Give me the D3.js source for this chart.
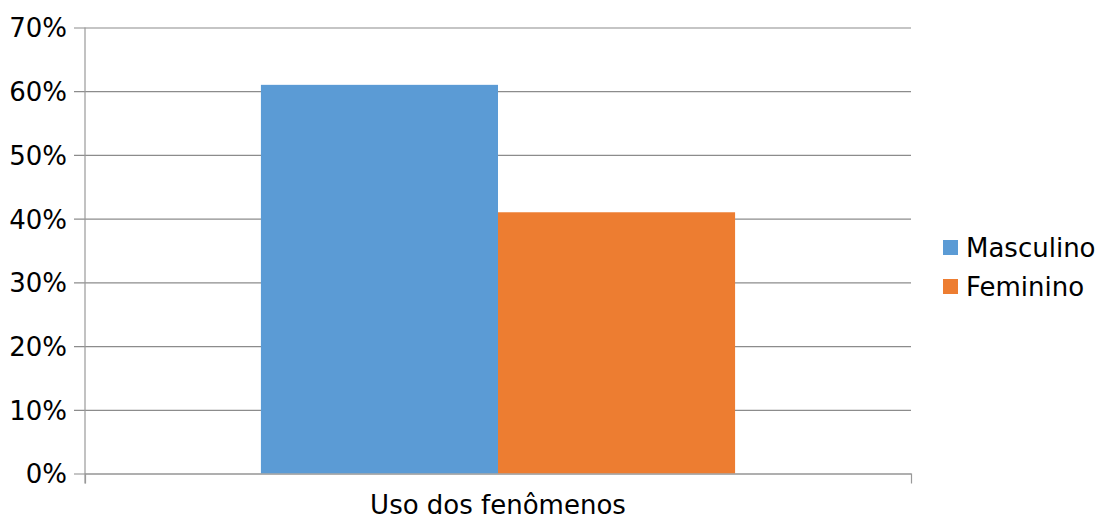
<!DOCTYPE html>
<html>
<head>
<meta charset="utf-8">
<script src="https://cdn.jsdelivr.net/npm/d3@7/dist/d3.min.js"></script>
<style>
  html, body { margin: 0; padding: 0; background: #fff; }
  svg { display: block; font-family: "DejaVu Sans", sans-serif; }
</style>
</head>
<body>
<svg id="chart" width="1099" height="517"></svg>
<script>
// Share of use by gender
const categories = ["Uso dos fenômenos"];
const seriesNames = ["Masculino", "Feminino"];
const seriesValues = [61, 41];
const seriesColors = ["#5b9bd5", "#ed7d31"];
const yTicks = [0, 10, 20, 30, 40, 50, 60, 70];

const svg = d3.select("#chart");
const plot = { left: 85, right: 911, top: 27.5, bottom: 473.5 };

const y = d3.scaleLinear().domain([0, 70]).range([plot.bottom, plot.top]);
const x0 = d3.scaleBand().domain(categories).range([plot.left, plot.right])
  .paddingInner(0).paddingOuter(0.371);
const x1 = d3.scaleBand().domain(seriesNames).range([0, x0.bandwidth()]).padding(0);

// horizontal gridlines with left ticks
const yAxis = d3.axisLeft(y).tickValues(yTicks).tickFormat(d => d + "%")
  .tickSize(-(plot.right - plot.left)).tickPadding(18);
const gy = svg.append("g").attr("transform", `translate(${plot.left},0)`).call(yAxis);
gy.select(".domain").remove();
gy.selectAll(".tick line").attr("x1", -11).attr("x2", plot.right - plot.left)
  .attr("stroke", "#8c8c8c").attr("stroke-width", 1.2);
gy.selectAll(".tick text").attr("font-size", 26).attr("fill", "#000")
  .attr("font-family", "DejaVu Sans, sans-serif").attr("dy", "0.36em");

// bars
const g = svg.append("g");
categories.forEach(c => {
  g.selectAll(null).data(seriesNames).enter().append("rect")
    .attr("x", d => x0(c) + x1(d))
    .attr("width", x1.bandwidth())
    .attr("y", (d, i) => y(seriesValues[i]))
    .attr("height", (d, i) => y(0) - y(seriesValues[i]))
    .attr("fill", (d, i) => seriesColors[i]);
});

// vertical axis line
svg.append("line").attr("x1", plot.left).attr("x2", plot.left)
  .attr("y1", plot.top).attr("y2", plot.bottom + 10)
  .attr("stroke", "#999").attr("stroke-width", 1.2);

// bottom axis with end ticks
const xEdges = d3.scaleLinear().domain([0, 1]).range([plot.left, plot.right]);
const gx = svg.append("g").attr("transform", `translate(0,${plot.bottom})`)
  .call(d3.axisBottom(xEdges).tickValues([0, 1]).tickFormat("").tickSize(10).tickSizeOuter(0));
gx.select(".domain").attr("stroke", "#999").attr("stroke-width", 1.2);
gx.selectAll(".tick line").attr("stroke", "#999").attr("stroke-width", 1.2);

// category label
svg.selectAll(null).data(categories).enter().append("text")
  .attr("x", d => x0(d) + x0.bandwidth() / 2)
  .attr("y", 514)
  .attr("text-anchor", "middle")
  .attr("font-size", 26)
  .attr("fill", "#000")
  .text(d => d);

// legend
const legend = svg.append("g").attr("transform", "translate(943,240)");
const items = legend.selectAll("g").data(seriesNames).enter().append("g")
  .attr("transform", (d, i) => `translate(0,${i * 39})`);
items.append("rect").attr("width", 15).attr("height", 15)
  .attr("fill", (d, i) => seriesColors[i]);
items.append("text").attr("x", 23).attr("y", 7.5).attr("dy", "0.36em")
  .attr("font-size", 26).attr("fill", "#000").text(d => d);
</script>
</body>
</html>
